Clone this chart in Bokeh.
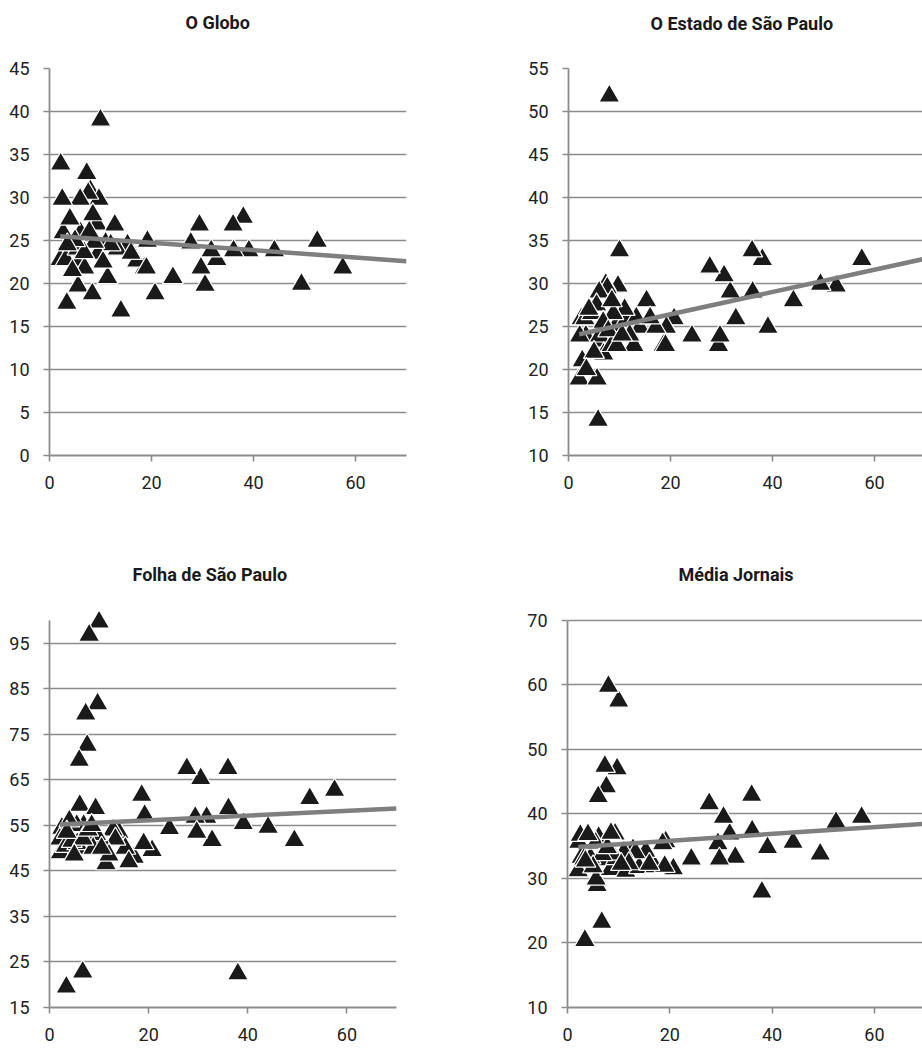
from bokeh.plotting import figure
from bokeh.layouts import column, row
from bokeh.models import Range1d, FixedTicker, ColumnDataSource, Title
from bokeh.embed import file_html
from bokeh.resources import INLINE

# ---- data ----
x_vals = [57.5, 52.5, 49.4, 44.1, 39.1, 38.0, 36.0, 36.1, 32.8, 31.7, 30.5, 29.4, 29.7, 27.7, 24.2, 20.7,
          10.0, 8.0, 9.7, 7.3, 7.6, 6.0, 3.4, 6.7, 5.8, 6.1, 9.3, 2.2, 2.5, 2.7, 2.1, 3.2, 5.6, 6.9, 8.4,
          11.4, 14.0, 12.8, 19.2, 18.6, 17.1, 15.3, 19.0, 13.3, 11.0, 12.0, 9.5, 8.8, 4.5, 5.5, 6.8, 7.8,
          10.5, 4.0, 8.5, 5.0, 16.0, 3.5]
globo = [21.8, 24.9, 19.9, 23.8, 23.8, 27.7, 26.8, 23.8, 22.8, 23.8, 19.8, 26.8, 21.8, 24.7, 20.7, 18.8,
         39.0, 30.8, 29.8, 32.8, 30.5, 29.8, 17.7, 23.5, 22.7, 25.9, 26.9, 33.9, 29.8, 25.9, 22.8, 22.8, 19.7, 21.8, 18.8,
         20.7, 16.8, 26.8, 24.9, 21.8, 22.6, 24.5, 21.8, 24.0, 24.7, 24.5, 23.5, 24.8, 21.5, 24.0, 23.6, 26.0,
         22.5, 27.5, 28.0, 25.0, 23.5, 24.5]
estado = [32.8, 29.7, 29.9, 28.0, 24.9, 32.8, 33.8, 29.0, 25.9, 29.0, 30.9, 22.8, 23.9, 31.9, 23.9, 25.9,
          33.8, 51.8, 29.7, 29.9, 29.5, 29.0, 23.9, 23.3, 14.1, 23.9, 25.1, 23.9, 25.9, 21.0, 18.9, 25.9, 18.9, 21.8, 22.8,
          25.9, 24.9, 22.8, 24.9, 22.8, 24.9, 28.0, 22.8, 26.0, 27.0, 24.0, 22.8, 26.5, 26.5, 27.5, 25.5, 24.5,
          24.0, 27.0, 28.0, 22.0, 26.0, 20.0]
folha = [62.7, 60.9, 51.7, 54.6, 55.4, 22.4, 67.5, 58.7, 51.7, 56.8, 65.3, 56.8, 53.5, 67.5, 54.3, 49.5,
         99.7, 96.8, 81.7, 79.5, 72.6, 69.3, 19.5, 22.8, 50.0, 59.4, 58.7, 49.0, 54.4, 53.0, 52.0, 50.4, 51.0, 55.0, 52.5,
         46.6, 53.5, 54.0, 57.2, 61.6, 48.0, 50.0, 51.0, 52.0, 50.5, 48.5, 53.0, 50.0, 51.5, 55.0, 52.0, 54.0,
         50.0, 56.0, 55.0, 48.5, 47.0, 53.5]
media = [39.5, 38.7, 33.8, 35.6, 34.8, 27.9, 42.9, 37.4, 33.3, 36.9, 39.5, 35.4, 33.0, 41.6, 33.0, 31.5,
         57.5, 59.8, 47.0, 47.4, 44.2, 42.7, 20.4, 23.2, 28.9, 36.4, 36.9, 35.6, 36.7, 33.3, 31.2, 33.0, 29.9, 32.9, 31.4,
         31.1, 31.7, 34.5, 35.7, 35.4, 31.8, 34.2, 31.9, 34.0, 34.1, 32.3, 33.1, 33.8, 33.2, 35.5, 33.7, 34.8,
         32.2, 36.8, 37.0, 31.8, 32.2, 32.7]

trend_x = [2.1, 70.0]
trend_globo = [25.5, 22.6]
trend_estado = [24.1, 32.9]
trend_folha = [55.2, 58.7]
trend_media = [34.9, 38.5]

titles = ["O Globo", "O Estado de São Paulo", "Folha de São Paulo", "Média Jornais"]
x_ticks = [0, 20, 40, 60]
y_ticks_globo = [0, 5, 10, 15, 20, 25, 30, 35, 40, 45]
y_ticks_estado = [10, 15, 20, 25, 30, 35, 40, 45, 50, 55]
y_ticks_folha = [15, 25, 35, 45, 55, 65, 75, 85, 95]
y_ticks_media = [10, 20, 30, 40, 50, 60, 70]
y_bounds_globo = (0, 45)
y_bounds_estado = (10, 55)
y_bounds_folha = (15, 100)
y_bounds_media = (10, 70)

FONT = "Roboto"
GRAY = "#8c8c8c"


def panel(title, ys, trend_y, yticks, ybounds, yr_end, xr_end, w, h, bl, br, bt, bb, t_off, spacer):
    p = figure(width=w, height=h, output_backend="svg", toolbar_location=None,
               x_range=Range1d(0, xr_end), y_range=Range1d(ybounds[0], yr_end),
               min_border_left=bl, min_border_right=br, min_border_top=bt, min_border_bottom=bb)
    p.outline_line_color = None
    p.background_fill_color = "white"
    p.border_fill_color = "white"
    # spacer between frame and title, then the title itself
    p.add_layout(Title(text=" ", text_font_size="12px", standoff=spacer), "above")
    p.add_layout(Title(text=title, align="left", offset=t_off, standoff=0,
                       vertical_align="bottom", text_font=FONT, text_font_style="bold",
                       text_font_size="18px", text_color="#1a1a1a"), "above")
    p.xgrid.visible = False
    p.ygrid.ticker = FixedTicker(ticks=yticks)
    p.ygrid.grid_line_color = GRAY
    p.ygrid.grid_line_width = 1.6
    p.xaxis.ticker = FixedTicker(ticks=x_ticks)
    p.yaxis.ticker = FixedTicker(ticks=yticks)
    p.yaxis.bounds = ybounds
    for ax in (p.xaxis[0], p.yaxis[0]):
        ax.axis_line_color = GRAY
        ax.axis_line_width = 1.8
        ax.major_tick_line_color = GRAY
        ax.major_tick_line_width = 1.6
        ax.major_tick_out = 6
        ax.major_tick_in = 0
        ax.minor_tick_line_color = None
        ax.major_label_text_font = FONT
        ax.major_label_text_font_size = "18px"
        ax.major_label_text_color = "#222222"
    p.yaxis.major_label_standoff = 14
    p.xaxis.major_label_standoff = 14
    src = ColumnDataSource(dict(x=x_vals, y=ys))
    p.scatter("x", "y", source=src, marker="triangle", size=21,
              fill_color="#1a1a1a", line_color="white", line_width=1.2)
    p.line(trend_x, trend_y, line_color="#7f7f7f", line_width=4.5)
    return p


p1 = panel(titles[0], globo, trend_globo, y_ticks_globo, y_bounds_globo, 45, 70,
           460, 540, 49, 54, 67, 85, 136, 20)
p2 = panel(titles[1], estado, trend_estado, y_ticks_estado, y_bounds_estado, 55, 69.4,
           462, 540, 108, 0, 68, 83, 82, 19)
p3 = panel(titles[2], folha, trend_folha, y_ticks_folha, y_bounds_folha, 103.1, 70,
           460, 508, 49, 64, 66, 41, 83, 6)
p4 = panel(titles[3], media, trend_media, y_ticks_media, y_bounds_media, 72.17, 69.4,
           462, 508, 107, 0, 66, 41, 111, 6)

layout = column(row(p1, p2), row(p3, p4))
open("out.html", "w").write(file_html(layout, INLINE))
